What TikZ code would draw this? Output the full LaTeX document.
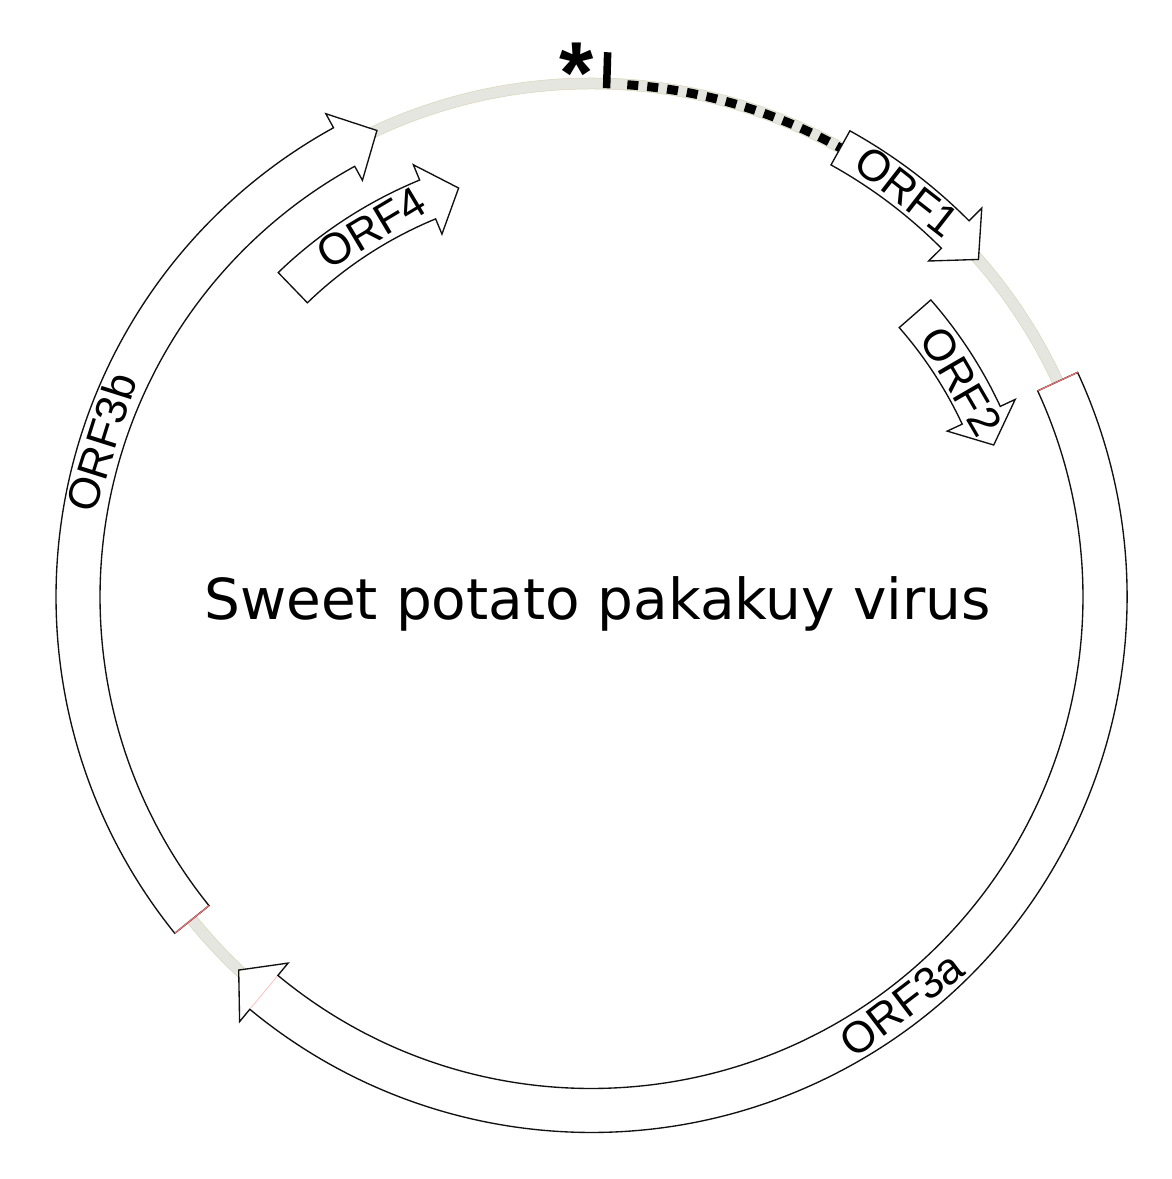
\documentclass[tikz,border=0pt]{standalone}
\usepackage{fontspec}
\newfontfamily\lab{Liberation Sans}
\newfontfamily\titlef{DejaVu Sans}
\definecolor{bandgray}{HTML}{E6E6E1}
\definecolor{bandedge}{HTML}{D6D6B8}
\definecolor{boxline}{HTML}{111111}
\tikzset{
  orfbox/.style={draw=boxline, fill=white, line width=1.35pt, line join=miter},
  orflabel/.style={font=\lab\fontsize{44}{50}\selectfont, inner sep=0pt},
  rededge/.style={draw=red!55, line width=1pt},
}
\newcommand\orfarrow[6]{%
  \pgfmathsetmacro\orfRo{#1+#5}\pgfmathsetmacro\orfRi{#1-#5}%
  \pgfmathsetmacro\orfHo{#1+#6}\pgfmathsetmacro\orfHi{#1-#6}%
  \draw[orfbox] (#2:\orfRo pt) arc[start angle=#2, end angle=#3, radius=\orfRo pt]
     -- (#3:\orfHo pt) -- (#4:#1pt) -- (#3:\orfHi pt) -- (#3:\orfRi pt)
     arc[start angle=#3, end angle=#2, radius=\orfRi pt] -- cycle;}
\begin{document}
\begin{tikzpicture}[x=1pt,y=1pt]
\useasboundingbox (0,0) rectangle (1171,1179);
\fill[white] (0,0) rectangle (1171,1179);
\begin{scope}[shift={(591.5,582)}]
  % genome band
  \draw[bandgray, line width=11pt] (0,0) circle[radius=513.5pt];
  \draw[bandedge, line width=0.5pt] (0,0) circle[radius=508pt];
  \draw[bandedge, line width=0.5pt] (0,0) circle[radius=519pt];
  % dotted segment
  \draw[black, line width=9pt, dash pattern=on 11pt off 9pt] (86:513.5pt) arc[start angle=86, end angle=60.5, radius=513.5pt];
  % tick
  \draw[black, line width=7.5pt] (88.3:509pt) -- (88.3:545pt);
  % ORF boxes
  \orfarrow{513.5}{24.8}{-129.65}{-133.4}{22}{38}
  \orfarrow{513.5}{218.9}{118.8}{114.7}{22}{38}
  \orfarrow{513.5}{61}{44.9}{41.1}{19.5}{37.5}
  \orfarrow{430}{41.2}{25.0}{20.7}{21}{37.5}
  \orfarrow{430}{134}{112.4}{108}{21}{37.5}
  % faint red edges
  \draw[rededge] (24.8:491.5pt) -- (24.8:535.5pt);
  \draw[rededge] (218.9:491.5pt) -- (218.9:535.5pt);
  \draw[red!25, line width=0.8pt] (-129.65:492.5pt) -- (-129.65:534.5pt);
  % labels
  \node[orflabel, rotate=37.3] (l3a) at (-52.7:512pt) {ORF3a};
  \node[orflabel, rotate=72.5] (l3b) at (162.5:514pt) {ORF3b};
  \node[orflabel, rotate=-37.9] (l1) at (52.1:513.5pt) {ORF1};
  \node[orflabel, rotate=-59.8] (l2) at (30.2:428pt) {ORF2};
  \node[orflabel, rotate=30.8] (l4) at (120.8:430pt) {ORF4};
\end{scope}
\node[font=\lab\bfseries\fontsize{88}{92}\selectfont, anchor=base, inner sep=0pt] (star) at (577,1075) {*};
\node[font=\titlef\fontsize{56.5}{62}\selectfont, anchor=base, inner sep=0pt] (title) at (597.5,559) {Sweet potato pakakuy virus};
\end{tikzpicture}
\end{document}
